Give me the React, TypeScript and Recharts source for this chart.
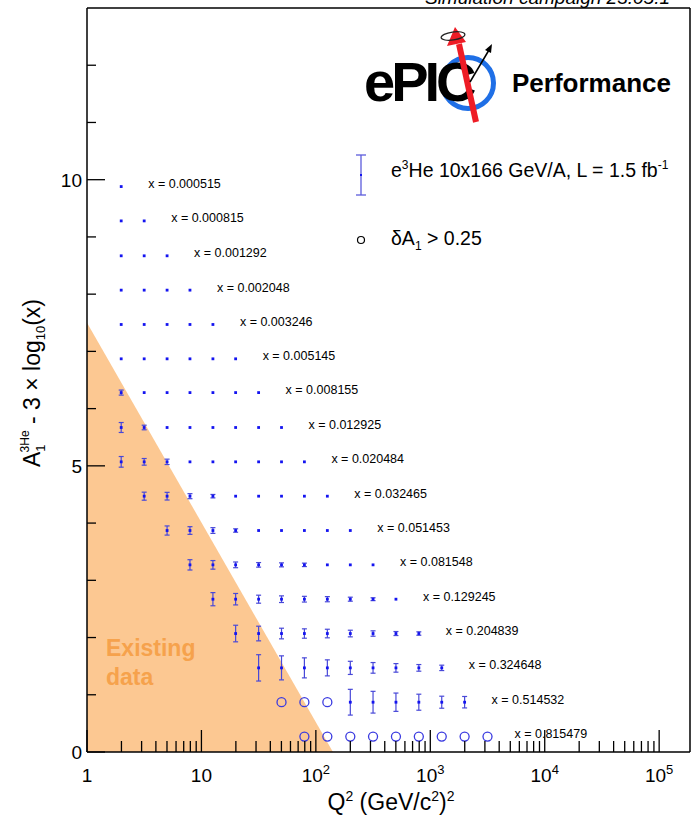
import React from 'react';
import { ComposedChart, Area, Scatter, XAxis, YAxis, ErrorBar, ReferenceLine } from 'recharts';

const FONT = '"Liberation Sans", Arial, Helvetica, sans-serif';

// Q^2 bin centres (GeV^2), columns of the grid
const Q2_BINS = [1.99, 3.16, 5.01, 7.94, 12.6, 19.9, 31.6, 50.1, 79.4, 126, 200, 316, 501, 794, 1259, 1995, 3162];

// x bins (rows)
const ROW_LABELS = [
  'x = 0.000515', 'x = 0.000815', 'x = 0.001292', 'x = 0.002048', 'x = 0.003246',
  'x = 0.005145', 'x = 0.008155', 'x = 0.012925', 'x = 0.020484', 'x = 0.032465',
  'x = 0.051453', 'x = 0.081548', 'x = 0.129245', 'x = 0.204839', 'x = 0.324648',
  'x = 0.514532', 'x = 0.815479',
];
// A1 - 3 log10(x) values of each row
const ROW_Y = [9.88, 9.28, 8.67, 8.07, 7.47, 6.87, 6.28, 5.67, 5.07, 4.47, 3.87, 3.27, 2.67, 2.07, 1.47, 0.87, 0.27];

// first Q^2 column holding an error-bar point, per row
const BAR_FIRST_COL = [0, 0, 0, 0, 0, 0, 0, 0, 0, 1, 2, 3, 4, 5, 6, 10, 0];
// error sizes of the error-bar points, per row
const BAR_ERRORS = [
  [0.008],
  [0.008, 0.008],
  [0.01, 0.008, 0.008],
  [0.01, 0.01, 0.008, 0.008],
  [0.012, 0.01, 0.01, 0.008, 0.008],
  [0.015, 0.012, 0.01, 0.01, 0.008, 0.008],
  [0.044, 0.02, 0.015, 0.012, 0.01, 0.01, 0.008],
  [0.087, 0.04, 0.02, 0.015, 0.012, 0.01, 0.01, 0.008],
  [0.093, 0.058, 0.047, 0.02, 0.015, 0.012, 0.01, 0.01, 0.008],
  [0.07, 0.067, 0.044, 0.03, 0.02, 0.015, 0.012, 0.01, 0.01],
  [0.08, 0.067, 0.05, 0.03, 0.022, 0.02, 0.015, 0.012, 0.01],
  [0.09, 0.075, 0.05, 0.04, 0.035, 0.03, 0.02, 0.015, 0.01],
  [0.115, 0.1, 0.07, 0.058, 0.05, 0.045, 0.035, 0.025, 0.015],
  [0.145, 0.128, 0.093, 0.082, 0.075, 0.058, 0.047, 0.035, 0.03],
  [0.23, 0.21, 0.175, 0.14, 0.115, 0.093, 0.075, 0.058, 0.047],
  [0.225, 0.19, 0.16, 0.14, 0.105, 0.1],
  [],
];
// error bars smaller than the marker are not drawn
const MIN_DRAWN_ERROR = 0.025;

// points with dA1 > 0.25 (open circles): row index and columns
const CIRCLE_ROWS = [15, 16];
const CIRCLE_COLS = [
  [7, 8, 9],
  [8, 9, 10, 11, 12, 13, 14, 15, 16],
];

// "Existing data" region boundary
const EDGE_Q2 = [1, 141];
const EDGE_Y = [7.5, 0];

// axes
const X_MAX = 186000;
const X_DECADES = [0, 1, 2, 3, 4, 5];
const X_MINOR_STEPS = [2, 3, 4, 5, 6, 7, 8, 9];
const Y_TICKS = [0, 1, 2, 3, 4, 5, 6, 7, 8, 9, 10, 11, 12];
const Y_LABELED = [0, 5, 10];

const X_TICKS: number[] = [];
X_DECADES.forEach((d) => {
  X_TICKS.push(Math.pow(10, d));
  X_MINOR_STEPS.forEach((m) => {
    const v = m * Math.pow(10, d);
    if (v < X_MAX) X_TICKS.push(v);
  });
});

const edgeData = EDGE_Q2.map((q, i) => ({ q, v: EDGE_Y[i] }));

const barPoints: { q: number; v: number; err: number }[] = [];
const dotPoints: { q: number; v: number }[] = [];
BAR_ERRORS.forEach((errs, r) => {
  errs.forEach((e, k) => {
    const pt = { q: Q2_BINS[BAR_FIRST_COL[r] + k], v: ROW_Y[r], err: e };
    if (e >= MIN_DRAWN_ERROR) barPoints.push(pt);
    else dotPoints.push(pt);
  });
});

const circlePoints: { q: number; v: number }[] = [];
CIRCLE_ROWS.forEach((r, i) => {
  CIRCLE_COLS[i].forEach((c) => circlePoints.push({ q: Q2_BINS[c], v: ROW_Y[r] }));
});

const labelPoints = ROW_LABELS.map((label, i) => ({ q: Q2_BINS[i], v: ROW_Y[i], label }));

const XTick = (props: any) => {
  const { x, y, payload } = props;
  const val = payload.value;
  const lg = Math.log10(val);
  const major = Math.abs(lg - Math.round(lg)) < 1e-6;
  const e = Math.round(lg);
  return (
    <g>
      <line x1={x} x2={x} y1={y} y2={y - (major ? 22 : 11)} stroke="#000" strokeWidth={1.3} />
      {major && (
        <text x={x} y={y + 30} textAnchor="middle" fontFamily={FONT} fontSize={19} fill="#000">
          {e === 0 ? '1' : e === 1 ? '10' : (
            <>
              10<tspan dy={-8} fontSize={13}>{e}</tspan>
            </>
          )}
        </text>
      )}
    </g>
  );
};

const YTick = (props: any) => {
  const { x, y, payload } = props;
  const val = payload.value;
  const major = Y_LABELED.includes(val);
  return (
    <g>
      <line x1={x} x2={x + (major ? 18 : 9)} y1={y} y2={y} stroke="#000" strokeWidth={1.3} />
      {major && (
        <text x={x - 5} y={y + 7} textAnchor="end" fontFamily={FONT} fontSize={19} fill="#000">
          {val}
        </text>
      )}
    </g>
  );
};

const BarMarker = (p: any) => (
  <rect x={p.cx - 1.4} y={p.cy - 1.4} width={2.8} height={2.8} fill="#1414f0" />
);
const CircleMarker = (p: any) => (
  <circle cx={p.cx} cy={p.cy} r={4.5} fill="none" stroke="#3a3ae0" strokeWidth={1.3} />
);
const RowLabel = (p: any) => (
  <text x={p.cx + 27} y={p.cy + 1.5} fontFamily={FONT} fontSize={12.5} fill="#000">
    {p.payload.label}
  </text>
);

const Overlay = () => (
  <svg width={693} height={827} style={{ position: 'absolute', left: 0, top: 0, pointerEvents: 'none' }}>
    <text x={670} y={3.5} textAnchor="end" fontFamily={FONT} fontStyle="italic" fontSize={19} fill="#000">
      Simulation campaign 23.05.1
    </text>
    {/* logo */}
    <circle cx={468} cy={83} r={25.5} fill="none" stroke="#1f6fe6" strokeWidth={5} />
    <text x={364} y={101} fontFamily={FONT} fontWeight={900} fontSize={56} letterSpacing={-4} fill="#000">
      ePIC
    </text>
    <line x1={476} y1={122} x2={459} y2={44} stroke="#ee1c25" strokeWidth={6} />
    <polygon points="455,27 447,46 466,42" fill="#ee1c25" />
    <ellipse cx={453} cy={36} rx={12} ry={4} fill="none" stroke="#222" strokeWidth={1.2} transform="rotate(-8 453 36)" />
    <line x1={470} y1={82} x2={489} y2={50} stroke="#000" strokeWidth={1.5} />
    <polygon points="492,44 485,50 491,53" fill="#000" />
    <text x={512} y={92} fontFamily={FONT} fontWeight={700} fontSize={26} fill="#000">
      Performance
    </text>
    {/* legend */}
    <line x1={361} x2={361} y1={155} y2={195} stroke="#5b5bdc" strokeWidth={1.3} />
    <line x1={356} x2={366} y1={155} y2={155} stroke="#5b5bdc" strokeWidth={1.3} />
    <line x1={356} x2={366} y1={195} y2={195} stroke="#5b5bdc" strokeWidth={1.3} />
    <rect x={360} y={174} width={2} height={2} fill="#1414f0" />
    <text x={391} y={177} fontFamily={FONT} fontSize={19.5} fill="#000">
      e<tspan dy={-8} fontSize={12}>3</tspan>
      <tspan dy={8}>He 10x166 GeV/A, L = 1.5 fb</tspan>
      <tspan dy={-8} fontSize={12}>-1</tspan>
    </text>
    <circle cx={361} cy={240} r={3.5} fill="none" stroke="#000" strokeWidth={1.2} />
    <text x={391} y={245} fontFamily={FONT} fontSize={19.5} fill="#000">
      δA<tspan dy={5} fontSize={12}>1</tspan>
      <tspan dy={-5}> &gt; 0.25</tspan>
    </text>
    {/* existing data */}
    <text x={106} y={656} fontFamily={FONT} fontWeight={700} fontSize={23} fill="#f6a24c">Existing</text>
    <text x={106} y={685} fontFamily={FONT} fontWeight={700} fontSize={23} fill="#f6a24c">data</text>
    {/* axis titles */}
    <text x={391} y={810} textAnchor="middle" fontFamily={FONT} fontSize={23} fill="#000">
      Q<tspan dy={-9} fontSize={14}>2</tspan>
      <tspan dy={9}> (GeV/c</tspan>
      <tspan dy={-9} fontSize={14}>2</tspan>
      <tspan dy={9}>)</tspan>
      <tspan dy={-9} fontSize={14}>2</tspan>
    </text>
    <text x={40} y={383} transform="rotate(-90 40 383)" textAnchor="middle" fontFamily={FONT} fontSize={23} fill="#000">
      A<tspan dy={5} fontSize={13}>1</tspan>
      <tspan dx={-8} dy={-16} fontSize={12}>3He</tspan>
      <tspan dy={11}> - 3 × log</tspan>
      <tspan dy={5} fontSize={13}>10</tspan>
      <tspan dy={-5}>(x)</tspan>
    </text>
  </svg>
);

export default function App() {
  return (
    <div style={{ position: 'absolute', left: 0, top: 0, width: 693, height: 827, background: '#fff' }}>
      <div style={{ position: 'absolute', left: 0, top: 0 }}>
        <ComposedChart
          width={693}
          height={827}
          data={edgeData}
          margin={{ top: 8, right: 3, bottom: 0, left: 0 }}
        >
          <Area
            type="linear"
            dataKey="v"
            stroke="none"
            fill="#fcc892"
            fillOpacity={1}
            isAnimationActive={false}
          />
          <XAxis
            dataKey="q"
            type="number"
            scale="log"
            domain={[1, X_MAX]}
            allowDataOverflow
            ticks={X_TICKS}
            interval={0}
            tickSize={0}
            tickMargin={0}
            tickLine={false}
            tick={<XTick />}
            axisLine={{ stroke: '#000', strokeWidth: 1.5 }}
            height={75}
          />
          <YAxis
            dataKey="v"
            type="number"
            domain={[0, 13]}
            allowDataOverflow
            ticks={Y_TICKS}
            interval={0}
            tickSize={0}
            tickMargin={0}
            tickLine={false}
            tick={<YTick />}
            axisLine={{ stroke: '#000', strokeWidth: 1.5 }}
            width={87}
          />
          <ReferenceLine y={13} stroke="#000" strokeWidth={1.5} />
          <ReferenceLine x={X_MAX} stroke="#000" strokeWidth={1.5} />
          <Scatter data={dotPoints} shape={BarMarker} isAnimationActive={false} />
          <Scatter data={barPoints} shape={BarMarker} isAnimationActive={false}>
            <ErrorBar dataKey="err" direction="y" width={2.5} stroke="#4848d8" strokeWidth={1.2} isAnimationActive={false} />
          </Scatter>
          <Scatter data={circlePoints} shape={CircleMarker} isAnimationActive={false} />
          <Scatter data={labelPoints} shape={RowLabel} isAnimationActive={false} />
        </ComposedChart>
      </div>
      <Overlay />
    </div>
  );
}
